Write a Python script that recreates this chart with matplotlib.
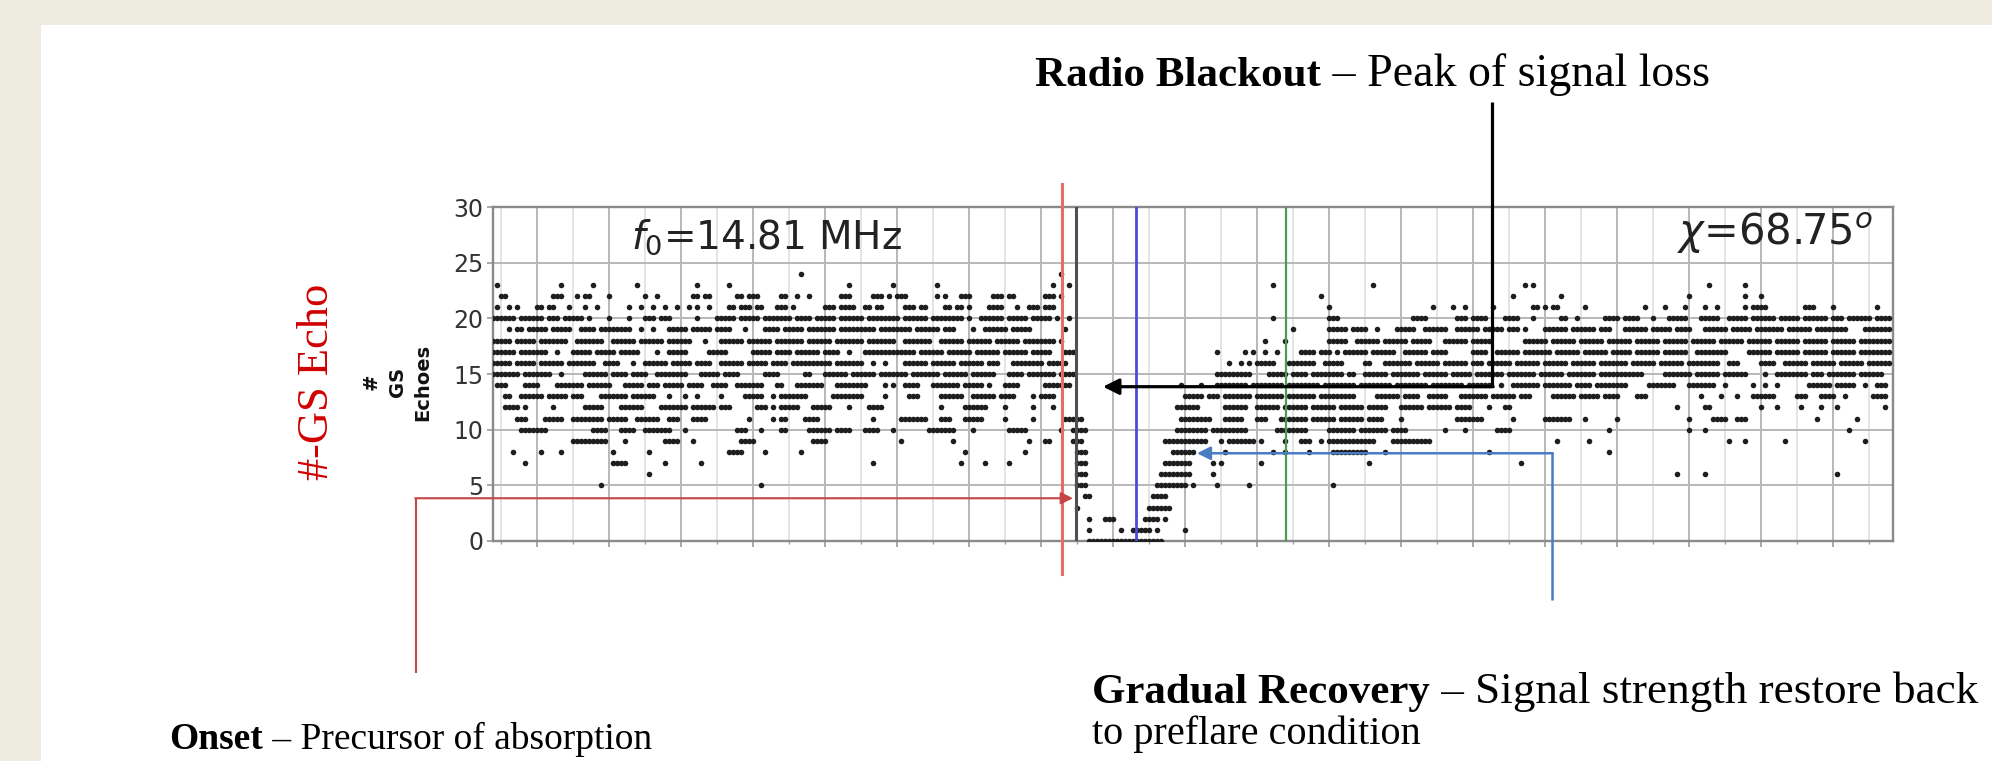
import matplotlib
matplotlib.use("Agg")
import matplotlib.pyplot as plt
from matplotlib.patches import Rectangle

# ---------------- data (x = sample index along the time axis, y = number of GS echoes) -------------
gs_row_24 = "77 142"
gs_row_23 = "1 17 25 36 51 59 89 100 111 140 144 195 220 258 260 304 313"
gs_row_22 = ("2-3 15-17 21 23-24 29 38 41 50-51 53-54 61-62 64-66 72-73 76 79 87-89 95-97 99 101-103 "
             "111 113 117-119 125-127 129-130 138-140 142 207 255 267 299 313 317")
gs_row_21 = ("1 4 6 11-12 14-15 19 23 26 34 37 40 43 46 49 51 54 59-60 62-64 66-67 71-73 75 83-85 87-90 "
             "93-94 96-97 103-105 107-108 113-114 116-117 119 124-127 131 134-136 138-140 209 235 240 243 "
             "250 260-261 263 265-266 273 288 293 298 303 306 313 315-318 328-330 335 346")
gs_row_20 = ("0-5 7-12 14-16 18-22 24 29 34 38-40 42-44 51 56-60 62-66 68-74 76-79 81-85 87-92 94-101 "
             "103-108 110-117 119 122-127 129-133 135-139 141 144 195 209-211 230-233 241-243 245-248 "
             "253-256 260 267-268 271 278-281 283-286 290 294-298 302-306 309-313 315-320 322-326 328-333 "
             "335-337 339-344 346-349")
gs_row_19 = ("4 6-7 9-13 15-19 22-25 27-33 34 37 40 44-48 50-54 56-59 63 68-71 73-77 79-85 87-95 97-104 "
             "106-111 113-115 120 123-128 130-134 143 200 209-213 215-218 221 226-230 233-238 241-246 "
             "248-252 254-256 258 263-268 270-275 277-279 283-288 290-294 296-299 303-308 310-314 316-322 "
             "324-329 331-338 343-349")
gs_row_18 = ("0-4 6-10 12-18 21-27 30-35 37-42 44-49 53 57-62 64-69 71-77 79-84 86-92 94-100 103-109 "
             "112-117 119-124 126-131 133-140 142 193 198 209-213 216-221 223-228 230-234 238-243 245-249 "
             "258-263 265-270 272-277 279-284 286-291 293-298 300-305 307-312 314-319 321-326 328-333 "
             "335-340 342-349")
gs_row_17 = ("0-5 7-13 16 20-24 26-30 32-36 41 44-48 54-58 65-69 71-74 76-81 83-86 89 93-100 101-105 "
             "107-112 114-119 121-126 128-133 135-139 143-145 181 188 190 193 196 202-205 207-209 211 "
             "213-218 220-225 228-233 235-238 245-248 251-256 258-264 266-271 273-278 280-284 286-291 "
             "293-298 301-308 314-319 321-326 328-333 335-340 342-349")
gs_row_16 = ("0-4 6-10 12-17 19-25 28-31 35 38-43 45-49 51-54 57-62 64-68 70-73 75-79 80-84 86-92 95 98 "
             "103-108 110-115 117-122 124-126 130-132 133-137 139-143 184 187 189 191-195 199-205 208-212 "
             "218-219 223-229 231-236 238-243 245-247 249-254 256-261 263-268 270-275 277-283 285-290 "
             "292-297 299-306 309-311 317-320 323-328 330-335 337-342 344-349")
gs_row_15 = ("0-6 8-14 17 23-28 30-33 35-38 41-48 52-56 58-61 68-71 78-79 83-88 90-95 97-103 105-111 "
             "113-118 120-125 129-132 134-140 142-145 181-189 194-198 200-203 205-212 214-215 218-223 "
             "225-231 233-238 240-244 246-252 254-260 262-267 269-275 277-287 293-299 301-306 308-313 318 "
             "321-328 330-332 334-340 342-347")
gs_row_14 = ("1-3 8-11 16-22 24-29 33-37 39-41 43-47 49-52 55-58 61-67 71-72 76-82 86-93 98 100 103-106 "
             "110-116 118-122 124 128-131 138-144 172 177 181-188 190-197 199-206 208-215 217-224 226-233 "
             "235-242 244-249 252 255-261 263-269 271-274 276-283 289-295 299-305 308 315 318 321 329-334 "
             "336-340 343 346-348")
gs_row_13 = ("3-4 7-12 14-18 20-22 27-33 35-40 44 48 51 57 63-67 70 72-78 85-92 98 104-106 112-117 "
             "120-125 127-130 135 137-140 173-177 179-181 183-189 191-197 199-205 207-215 221-226 228-231 "
             "234-238 242-248 250-255 257-259 265-270 272-276 278-281 286-288 302 307 311 315-320 326-328 "
             "332-335 338 345-348")
gs_row_12 = ("3-6 8 15 23-27 32-37 42-48 50-55 57-59 66-68 70 72-76 80-84 89 94-97 112 118-123 128 135 "
             "140 171-176 183-188 191-196 198-203 205-210 212-217 219-223 227-232 234-239 241-244 249 "
             "253-254 296 303-304 317 321 327 332 336 348")
gs_row_11 = ("6-8 13-17 20-27 29-33 36-41 44-46 50-53 64 70 72-73 78-81 95 102-108 112-114 118-122 128 "
             "135 143-147 172-179 183-187 191-193 197-203 205-210 212-217 219-222 227 241-247 255 263-269 "
             "273 281 299 305-308 311-313 331 341")
gs_row_10 = ("7-13 25-28 32-35 38-44 48 61-63 67 72-73 79-84 86-89 93-96 100 109-115 120 129-133 142 "
             "145-148 171-178 180-188 196-203 209-215 217-223 225-228 238 243 251-254 279 299 303 339")
gs_row_9 = ("20-28 33 43-46 50 62-65 80-83 102 115 134 138-139 145-147 168-178 182 184-190 192 198 "
            "202-204 207 209-220 225-234 266 274 309 313 323 343")
gs_row_8 = "5 12 17 30 39 59-62 68 77 118 133 146-148 170-175 183 195 198 204 210-218 223 249 279"
gs_row_7 = "8 30-33 43 52 95 117 123 129 146-148 168-174 180 182 192 219 257"
gs_row_6 = "39 146-148 167-174 180 296 303 336"
gs_row_5 = "27 67 146-148 166-173 175 181 189 210"
gs_row_4 = "148-149 165-168"
gs_row_3 = "146 164-169"
gs_row_2 = "149 153-155 163-166 168"
gs_row_1 = "149 157 160-164 166 173"
gs_row_0 = "149-167"

echo_levels = [24, 23, 22, 21, 20, 19, 18, 17, 16, 15, 14, 13, 12,
               11, 10, 9, 8, 7, 6, 5, 4, 3, 2, 1, 0]
echo_rows = [gs_row_24, gs_row_23, gs_row_22, gs_row_21, gs_row_20, gs_row_19, gs_row_18,
             gs_row_17, gs_row_16, gs_row_15, gs_row_14, gs_row_13, gs_row_12, gs_row_11,
             gs_row_10, gs_row_9, gs_row_8, gs_row_7, gs_row_6, gs_row_5, gs_row_4, gs_row_3,
             gs_row_2, gs_row_1, gs_row_0]

# event markers (sample index)
onset_x = 142.2
blackout_x = 145.75
recovery_x = 160.7
end_x = 198.2

x_range = (0, 350)
y_range = (0, 30)
y_ticks = [0, 5, 10, 15, 20, 25, 30]
x_major = [11 + 18 * k for k in range(19)]
x_minor = [2 + 18 * k for k in range(20)]

freq_label = r"$f_0$=14.81 MHz"
chi_label = r"$\chi$=68.75$^o$"

# annotation anchors (data coordinates of the connectors)
blackout_arrow = dict(x_top=249.75, y_top=39.43, y=13.86, x_tip=152.5)
recovery_arrow = dict(x_bottom=264.75, y_bottom=-5.3, y=7.88, x_tip=176.0)
onset_arrow = dict(x_bottom=-19.25, y_bottom=-11.86, y=3.84, x_tip=145.0)


def expand(spec):
    cols = []
    for tok in spec.split():
        if "-" in tok:
            a, b = tok.split("-")
            cols.extend(range(int(a), int(b) + 1))
        else:
            cols.append(int(tok))
    return cols


xs, ys = [], []
for lvl, spec in zip(echo_levels, echo_rows):
    c = expand(spec)
    xs.extend(c)
    ys.extend([lvl] * len(c))

W, H = 1992, 761
fig = plt.figure(figsize=(W / 100, H / 100), dpi=100)
fig.patch.set_facecolor("white")
beige = "#edebe0"
fig.patches.append(Rectangle((0, 1 - 25 / H), 1, 25 / H, transform=fig.transFigure,
                             facecolor=beige, edgecolor="none", zorder=0))
fig.patches.append(Rectangle((0, 0), 41 / W, 1, transform=fig.transFigure,
                             facecolor=beige, edgecolor="none", zorder=0))

ax = fig.add_axes([493 / W, 1 - 541 / H, 1400 / W, 334 / H])
ax.set_xlim(*x_range)
ax.set_ylim(*y_range)
ax.set_xticks(x_major)
ax.set_xticks(x_minor, minor=True)
ax.set_yticks(y_ticks)
ax.set_yticklabels([str(v) for v in y_ticks])
ax.tick_params(axis="x", which="both", labelbottom=False, color="#999999")
ax.tick_params(axis="x", which="major", length=4, width=1.2)
ax.tick_params(axis="x", which="minor", length=2.5, width=1.0)
ax.tick_params(axis="y", length=4, width=1.2, color="#999999", labelsize=17,
               labelcolor="#333333", pad=3)
ax.grid(which="major", color="#b8b8b8", lw=1.4)
ax.grid(which="minor", axis="x", color="#dddddd", lw=1.1)
ax.set_axisbelow(True)
for sp in ax.spines.values():
    sp.set_color("#8a8a8a")
    sp.set_linewidth(1.7)

ax.scatter(xs, ys, s=16, c="#1e1e1e", marker="o", linewidths=0, zorder=3)

# event lines
ax.plot([onset_x, onset_x], [32.07, -2.96], color="#e86a6a", lw=2.2, clip_on=False, zorder=4)
ax.axvline(blackout_x, color="#505050", lw=2.2, zorder=4)
ax.axvline(recovery_x, color="#4a4ae0", lw=2.0, zorder=4)
ax.axvline(end_x, color="#4f9a4f", lw=1.6, zorder=4)

ax.text((631 - 493) / 1400, (541 - 237) / 334, freq_label, transform=ax.transAxes,
        fontsize=28, color="#222222", ha="left", va="center", zorder=5)
ax.text((1873 - 493) / 1400, (541 - 233) / 334, chi_label, transform=ax.transAxes,
        fontsize=30, color="#222222", ha="right", va="center", zorder=5)

# connectors
b = blackout_arrow
ax.plot([b["x_top"], b["x_top"]], [b["y_top"], b["y"]], color="black", lw=2.3,
        clip_on=False, zorder=6, solid_capstyle="butt")
ax.annotate("", xy=(b["x_tip"], b["y"]), xytext=(b["x_top"] + 0.3, b["y"]),
            arrowprops=dict(arrowstyle="-|>", color="black", lw=2.3, mutation_scale=24,
                            shrinkA=0, shrinkB=0), annotation_clip=False, zorder=6)
r = recovery_arrow
ax.plot([r["x_bottom"], r["x_bottom"]], [r["y_bottom"], r["y"]], color="#4a7cc4", lw=1.8,
        clip_on=False, zorder=6, solid_capstyle="butt")
ax.annotate("", xy=(r["x_tip"], r["y"]), xytext=(r["x_bottom"] + 0.2, r["y"]),
            arrowprops=dict(arrowstyle="-|>", color="#4a7cc4", lw=1.8, mutation_scale=20,
                            shrinkA=0, shrinkB=0), annotation_clip=False, zorder=6)
o = onset_arrow
ax.plot([o["x_bottom"], o["x_bottom"]], [o["y_bottom"], o["y"]], color="#c64545", lw=1.5,
        clip_on=False, zorder=6, solid_capstyle="butt")
ax.annotate("", xy=(o["x_tip"], o["y"]), xytext=(o["x_bottom"] - 0.2, o["y"]),
            arrowprops=dict(arrowstyle="-|>", color="#c64545", lw=1.5, mutation_scale=18,
                            shrinkA=0, shrinkB=0), annotation_clip=False, zorder=6)

# y labels
fig.text(317 / W, 1 - 382 / H, "#-GS Echo", rotation=90, color="#d00000", fontsize=32,
         family="Liberation Serif", ha="center", va="center")
fig.text(397 / W, 1 - 382 / H, "#\nGS\nEchoes", rotation=90, fontsize=14, fontweight="bold",
         ha="center", va="center", multialignment="center", linespacing=1.45, color="#111111")

# slide annotations (bold head + regular body)
renderer = fig.canvas.get_renderer()


def two_part(x_px, y_px, bold, regular, size_bold, size_reg):
    t1 = fig.text(x_px / W, 1 - y_px / H, bold, family="Liberation Serif", fontweight="bold",
                  fontsize=size_bold, ha="left", va="baseline", color="black")
    bb = t1.get_window_extent(renderer=renderer)
    fig.text(bb.x1 / W, 1 - y_px / H, regular, family="Liberation Serif", fontsize=size_reg,
             ha="left", va="baseline", color="black")


two_part(1035, 86, "Radio Blackout", " \u2013 Peak of signal loss", 31, 33)
two_part(1092, 703, "Gradual Recovery", " \u2013 Signal strength restore back", 31, 32.5)
fig.text(1092 / W, 1 - 744 / H, "to preflare condition", family="Liberation Serif",
         fontsize=29, ha="left", va="baseline", color="black")
two_part(169, 749, "Onset", " \u2013 Precursor of absorption", 27, 27)

fig.savefig("out.png", dpi=100, facecolor=fig.get_facecolor())
